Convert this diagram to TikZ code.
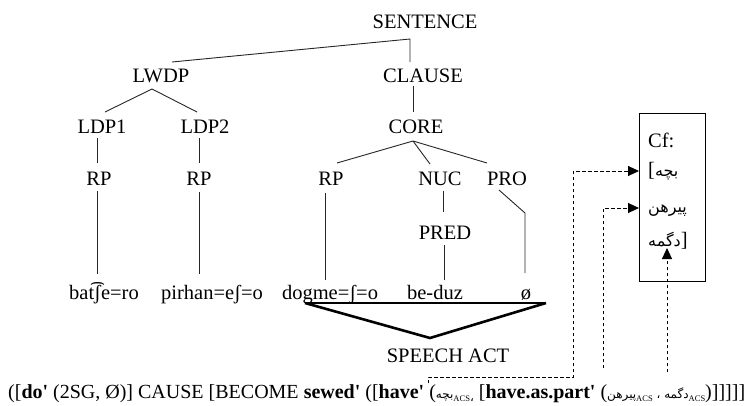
\documentclass[tikz,border=0pt]{standalone}
\usepackage{fontspec}
\setmainfont{Liberation Serif}
\newfontfamily\arabicfont[Script=Arabic]{DejaVu Sans}
\TeXXeTstate=1
\usetikzlibrary{arrows.meta}
\newcommand{\fa}[1]{{\arabicfont\beginR #1\endR}}
\newcommand{\fsm}[1]{{\arabicfont\fontsize{12}{14}\selectfont\beginR #1\endR}}
\newcommand{\acs}[1]{\raisebox{-3pt}{\fontsize{8.5}{10}\selectfont ACS#1}}
\newcommand{\sq}{\textquotesingle}
\begin{document}
\begin{tikzpicture}[x=1pt,y=-1pt,
  lbl/.style={font=\fontsize{20.5}{24}\selectfont, inner sep=0pt, anchor=base},
  ln/.style={line width=0.9pt, draw=black!85},
  thick3/.style={line width=2.6pt, line join=bevel},
  dsh/.style={line width=0.9pt, dash pattern=on 3.5pt off 2.5pt},
  arr/.style={-{Triangle[length=11pt,width=10pt]}}]
\useasboundingbox (0,0) rectangle (750,405);
% tree labels
\node[lbl] (sentence) at (425,28) {SENTENCE};
\node[lbl] (lwdp) at (161,82) {LWDP};
\node[lbl] (clause) at (423,82) {CLAUSE};
\node[lbl] (ldp1) at (102,133) {LDP1};
\node[lbl] (ldp2) at (205,133) {LDP2};
\node[lbl] (core) at (416,133) {CORE};
\node[lbl] (rp1) at (99,185) {RP};
\node[lbl] (rp2) at (199,185) {RP};
\node[lbl] (rp3) at (331,185) {RP};
\node[lbl] (nuc) at (440,185) {NUC};
\node[lbl] (pro) at (507,185) {PRO};
\node[lbl] (pred) at (445,239) {PRED};
\node[lbl] (w1) at (104,299) {bat͡ʃe=ro};
\node[lbl] (w2) at (212,299) {pirhan=eʃ=o};
\node[lbl] (w3) at (330,299) {dogme=ʃ=o};
\node[lbl] (w4) at (435,299) {be-duz};
\node[lbl] (w5) at (526,299) {ø};
\node[lbl] (speech) at (448,362) {SPEECH ACT};
% tree lines
\draw[ln] (172,62) -- (410,39) -- (410,62);
\draw[ln] (105,112) -- (152,89) -- (197,112);
\draw[ln] (413,86) -- (413,112);
\draw[ln] (97,138) -- (97,163);
\draw[ln] (97,191) -- (97,274);
\draw[ln] (199,138) -- (199,163);
\draw[ln] (199,192) -- (199,274);
\draw[ln] (337,163) -- (413,141) -- (487,163);
\draw[ln] (413,141) -- (430,164);
\draw[ln] (443,191) -- (443,212);
\draw[ln] (444,245) -- (444,280);
\draw[ln] (325,193) -- (325,280);
\draw[ln] (499,190) -- (525,213) -- (525,273);
% speech act triangle
\coordinate (tl) at (305,303);
\coordinate (tr) at (546,303);
\coordinate (tb) at (430,338);
\draw[line width=1.5pt] (tl) -- (tr);
\draw[thick3] (tl) -- (tb) -- (tr);
% Cf box
\node[draw, line width=0.9pt, minimum width=66pt, minimum height=168pt, anchor=north west, inner sep=0pt] (cfbox) at (639,113) {};
\node[lbl, anchor=base west] (cf) at (648,147) {Cf:};
\node[inner sep=0pt, anchor=base west, font=\fontsize{20.5}{24}\selectfont] (fa1) at (648,176) {[\fa{\fontsize{16}{20}\selectfont بچه}};
\node[inner sep=0pt, anchor=base west] (fa2) at (648,212) {\fa{\fontsize{16}{20}\selectfont پیرهن}};
\node[inner sep=0pt, anchor=base west, font=\fontsize{20.5}{24}\selectfont] (fa3) at (648,246) {\fa{\fontsize{16}{20}\selectfont دگمه}]};
% formula
\node[lbl, anchor=base west, font=\fontsize{20}{24}\selectfont] (formula) at (8,398) {([\textbf{do\sq} (2SG, Ø)] CAUSE [BECOME \textbf{sewed\sq} ([\textbf{have\sq} (\fsm{بچه}\acs{\fsm{،}} [\textbf{have.as.part\sq} (\fsm{پیرهن}\acs{}\fsm{ ، }\fsm{دگمه}\acs{})]]]]]};
% dashed links
\coordinate (d1a) at (428,383);
\coordinate (d1b) at (428,377);
\coordinate (d1c) at (573,377);
\coordinate (d1d) at (573,171);
\coordinate (d1e) at (639,171);
\draw[dsh, arr] (d1a) -- (d1b) -- (d1c) -- (d1d) -- (d1e);
\coordinate (d2a) at (603,368);
\coordinate (d2b) at (603,208);
\coordinate (d2c) at (639,208);
\draw[dsh, arr] (d2a) -- (d2b) -- (d2c);
\coordinate (d3a) at (667,372);
\coordinate (d3b) at (667,248);
\draw[dsh, arr] (d3a) -- (d3b);
\end{tikzpicture}
\end{document}
